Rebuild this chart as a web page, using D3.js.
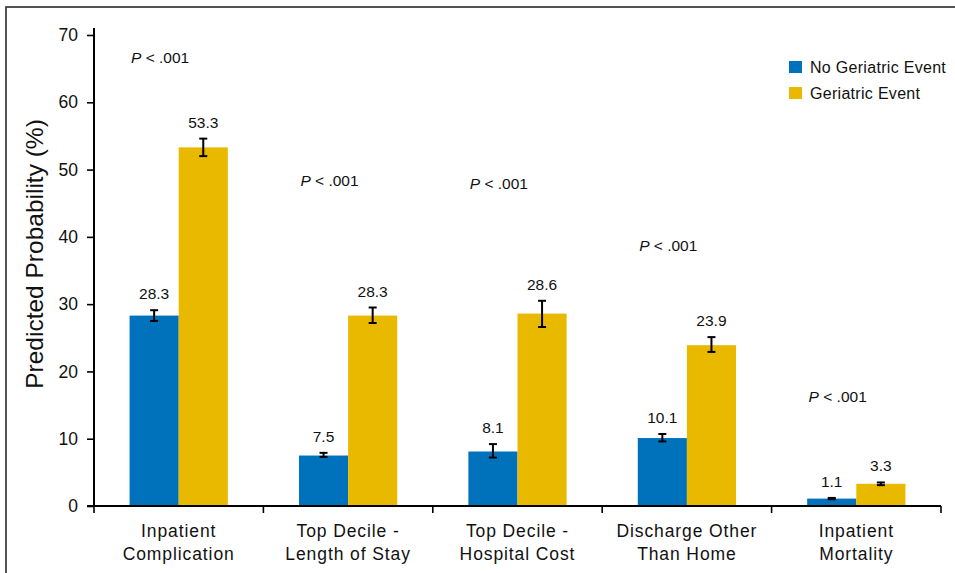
<!DOCTYPE html>
<html>
<head>
<meta charset="utf-8">
<script src="https://cdn.jsdelivr.net/npm/d3@7"></script>
<style>
  html, body { margin: 0; padding: 0; background: #fff; }
  svg { display: block; font-family: "Liberation Sans", Arial, Helvetica, sans-serif; }
</style>
</head>
<body>
<svg id="chart" width="955" height="573"></svg>
<script>
// Outcome categories (two lines per axis label)
const categoryLines = [
  ["Inpatient", "Complication"],
  ["Top Decile -", "Length of Stay"],
  ["Top Decile -", "Hospital Cost"],
  ["Discharge Other", "Than Home"],
  ["Inpatient", "Mortality"]
];
const categories = categoryLines.map(l => l.join(" "));

const seriesNames = ["No Geriatric Event", "Geriatric Event"];

// Predicted probability (%) with 95% CI bounds
const noEventValues = [28.3, 7.5, 8.1, 10.1, 1.1];
const noEventLow    = [27.5, 7.3, 7.2, 9.6, 1.0];
const noEventHigh   = [29.1, 7.9, 9.2, 10.7, 1.2];

const eventValues = [53.3, 28.3, 28.6, 23.9, 3.3];
const eventLow    = [52.0, 27.2, 26.6, 22.9, 3.1];
const eventHigh   = [54.6, 29.5, 30.5, 25.1, 3.5];

const pLabels = ["< .001", "< .001", "< .001", "< .001", "< .001"];

const yTicks = [0, 10, 20, 30, 40, 50, 60, 70];

const colors = { "No Geriatric Event": "#0072bc", "Geriatric Event": "#e9b900" };

// ---- layout ----
const svg = d3.select("#chart");
const plotLeft = 94, plotRight = 941, plotTop = 35, plotBottom = 506;

// panel frame (top and left edges visible)
svg.append("rect")
  .attr("x", 6).attr("y", 7).attr("width", 1200).attr("height", 1200)
  .attr("fill", "none").attr("stroke", "#2a2a2a").attr("stroke-width", 1.6);

const x0 = d3.scaleBand().domain(categories).range([plotLeft, plotRight]).padding(0);
const x1 = d3.scaleBand().domain(seriesNames)
  .range([x0.bandwidth() * 0.21, x0.bandwidth() * 0.79]).padding(0);
const y = d3.scaleLinear().domain([0, 70]).range([plotBottom, plotTop]);

const rows = categories.map((c, i) => ({
  cat: c,
  bars: [
    { s: seriesNames[0], v: noEventValues[i], lo: noEventLow[i], hi: noEventHigh[i] },
    { s: seriesNames[1], v: eventValues[i], lo: eventLow[i], hi: eventHigh[i] }
  ]
}));

// bars
const groups = svg.append("g").selectAll("g").data(rows).join("g")
  .attr("transform", d => `translate(${x0(d.cat)},0)`);

groups.selectAll("rect").data(d => d.bars).join("rect")
  .attr("x", d => x1(d.s))
  .attr("y", d => y(d.v))
  .attr("width", x1.bandwidth())
  .attr("height", d => y(0) - y(d.v))
  .attr("fill", d => colors[d.s]);

// error bars
const eb = groups.selectAll("g.err").data(d => d.bars).join("g").attr("class", "err")
  .attr("transform", d => `translate(${x1(d.s) + x1.bandwidth() / 2},0)`)
  .attr("stroke", "#000").attr("stroke-width", 2);
eb.append("line").attr("x1", 0).attr("x2", 0).attr("y1", d => y(d.lo)).attr("y2", d => y(d.hi));
eb.append("line").attr("x1", -4).attr("x2", 4).attr("y1", d => y(d.lo)).attr("y2", d => y(d.lo));
eb.append("line").attr("x1", -4).attr("x2", 4).attr("y1", d => y(d.hi)).attr("y2", d => y(d.hi));

// value labels
groups.selectAll("text.val").data(d => d.bars).join("text").attr("class", "val")
  .attr("x", d => x1(d.s) + x1.bandwidth() / 2)
  .attr("y", d => y(d.hi) - 11)
  .attr("text-anchor", "middle")
  .attr("font-size", 15.5)
  .attr("fill", "#111")
  .text(d => d.v.toFixed(1));

// P-value annotations (height in axis units)
const pLabelLevel = [65.8, 47.6, 47.1, 37.9, 15.4];
const pt = svg.append("g").selectAll("text").data(categories).join("text")
  .attr("x", c => x0(c) + 37)
  .attr("y", (c, i) => y(pLabelLevel[i]))
  .attr("font-size", 15.5)
  .attr("fill", "#111");
pt.append("tspan").attr("font-style", "italic").text("P");
pt.append("tspan").text((c, i) => " " + pLabels[i]);

// y axis
const yAxis = svg.append("g").attr("transform", `translate(${plotLeft},0)`)
  .call(d3.axisLeft(y).tickValues(yTicks).tickSize(7).tickPadding(9).tickFormat(d3.format("d")));
yAxis.select(".domain").attr("d", `M-0,${plotBottom}V${plotTop - 7}`).attr("stroke-width", 2);
yAxis.selectAll(".tick line").attr("stroke-width", 1.6);
yAxis.selectAll(".tick text").attr("font-size", 17.5).attr("fill", "#111")
  .attr("font-family", "Liberation Sans, Arial, sans-serif");

// x axis with ticks at group boundaries
const xAxis = svg.append("g").attr("transform", `translate(0,${plotBottom})`);
xAxis.append("line").attr("x1", plotLeft - 7).attr("x2", plotRight).attr("y1", 0).attr("y2", 0)
  .attr("stroke", "#000").attr("stroke-width", 2);
const bounds = categories.map(c => x0(c)).concat([x0.range()[1]]);
xAxis.selectAll("line.tk").data(bounds).join("line").attr("class", "tk")
  .attr("x1", d => d).attr("x2", d => d).attr("y1", 0).attr("y2", 7)
  .attr("stroke", "#000").attr("stroke-width", 1.6);

// category labels
const cl = svg.append("g").selectAll("text").data(categories).join("text")
  .attr("text-anchor", "middle")
  .attr("font-size", 17.5)
  .attr("letter-spacing", 0.9)
  .attr("fill", "#111");
cl.each(function (c, i) {
  const t = d3.select(this);
  categoryLines[i].forEach((line, k) => {
    t.append("tspan")
      .attr("x", x0(c) + x0.bandwidth() / 2)
      .attr("y", 537 + k * 23)
      .text(line);
  });
});

// y axis title
svg.append("text")
  .attr("transform", "translate(43,254) rotate(-90)")
  .attr("text-anchor", "middle")
  .attr("font-size", 24.5)
  .attr("fill", "#111")
  .text("Predicted Probability (%)");

// legend
const lg = svg.append("g").selectAll("g").data(seriesNames).join("g")
  .attr("transform", (d, i) => `translate(789,${61 + i * 26})`);
lg.append("rect").attr("width", 13).attr("height", 12).attr("fill", d => colors[d]);
lg.append("text").attr("x", 21).attr("y", 11.5).attr("font-size", 16)
  .attr("letter-spacing", 0.3)
  .attr("fill", "#111").text(d => d);
</script>
</body>
</html>
